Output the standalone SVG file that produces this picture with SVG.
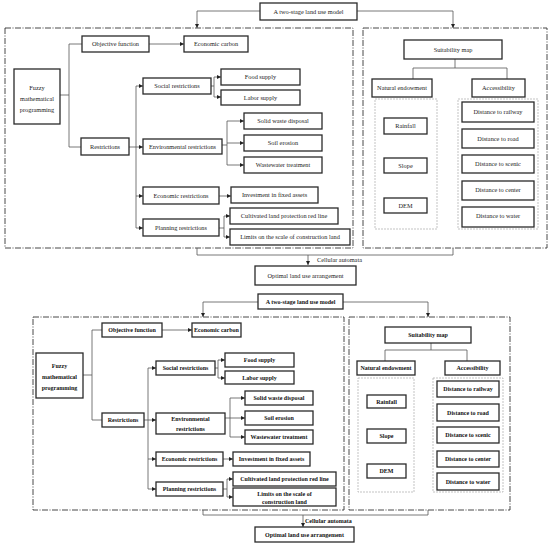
<svg xmlns="http://www.w3.org/2000/svg" width="550" height="546" viewBox="0 0 550 546">
<defs>
<marker id="arr" viewBox="0 0 6 6" refX="6" refY="3" markerWidth="4" markerHeight="4" orient="auto" markerUnits="userSpaceOnUse">
<path d="M0,0 L6,3 L0,6 z" fill="#222"/>
</marker>
</defs>
<style>
.bx{fill:#fff;stroke:#2a2a2a;stroke-width:1.3}
.frame{fill:none;stroke:#333;stroke-width:0.9;stroke-dasharray:6 1.5 1 1.5}
.grp{fill:none;stroke:#aaa;stroke-width:0.7;stroke-dasharray:2 1}
.t{font-family:"Liberation Serif","Times New Roman",serif;font-size:6.3px;fill:#222;text-anchor:middle}
.b{font-weight:bold;fill:#111;font-size:6px}
.tl{text-anchor:start}
.c path{fill:none;stroke:#555;stroke-width:0.8}
.c path.a{marker-end:url(#arr)}
</style>
<rect width="550" height="546" fill="#fff"/>

<!-- ===== TOP DIAGRAM ===== -->
<g id="top-frames">
<rect class="frame" x="5" y="28" width="348" height="220"/>
<rect class="frame" x="363" y="28" width="184" height="220"/>
<rect class="grp" x="375" y="99" width="62" height="130"/>
<rect class="grp" x="458" y="99" width="80" height="130"/>
</g>

<g class="c" id="top-connectors">
<path class="a" d="M260,11 H197 V28"/>
<path class="a" d="M357,11 H453 V28"/>
<path d="M60,95 H69"/>
<path d="M69,44 V147"/>
<path d="M69,44 H82"/>
<path d="M69,147 H81"/>
<path class="a" d="M149,44 H184"/>
<path d="M129,147 H136"/>
<path d="M136,86 V228"/>
<path class="a" d="M136,86 H143"/>
<path class="a" d="M136,147 H143"/>
<path class="a" d="M136,196 H143"/>
<path class="a" d="M136,228 H143"/>
<path d="M211,86 H214"/>
<path d="M214,77 V97"/>
<path class="a" d="M214,77 H221"/>
<path class="a" d="M214,97 H221"/>
<path d="M222,145 H227"/>
<path d="M227,121 V165"/>
<path class="a" d="M227,121 H244"/>
<path class="a" d="M227,143 H244"/>
<path class="a" d="M227,165 H244"/>
<path class="a" d="M219,196 H231"/>
<path d="M219,228 H224"/>
<path d="M224,216 V237"/>
<path class="a" d="M224,216 H230"/>
<path class="a" d="M224,237 H230"/>
<path d="M197,248 V255 H453 V248"/>
<path class="a" d="M308,255 V265"/>
<path d="M455,59 V68"/>
<path d="M413,79 V68 H507 V79"/>
</g>

<g id="t-model"><rect class="bx" x="260" y="3" width="97" height="17"/><text class="t" x="308.5" y="13.5">A two-stage land use model</text></g>
<g id="t-fuzzy"><rect class="bx" x="14" y="69" width="46" height="55"/><text class="t" x="37" y="90">Fuzzy</text><text class="t" x="37" y="101">mathematical</text><text class="t" x="37" y="112">programming</text></g>
<g id="t-objective"><rect class="bx" x="82" y="36" width="67" height="16"/><text class="t" x="115.5" y="46">Objective function</text></g>
<g id="t-carbon"><rect class="bx" x="184" y="36" width="64" height="16"/><text class="t" x="216" y="46">Economic carbon</text></g>
<g id="t-restrictions"><rect class="bx" x="81" y="138" width="48" height="17"/><text class="t" x="105" y="148.5">Restrictions</text></g>
<g id="t-social"><rect class="bx" x="143" y="78" width="68" height="16"/><text class="t" x="177" y="88">Social restrictions</text></g>
<g id="t-env"><rect class="bx" x="143" y="139" width="79" height="15"/><text class="t" x="182.5" y="148.5">Environmental restrictions</text></g>
<g id="t-econ"><rect class="bx" x="143" y="187" width="76" height="17"/><text class="t" x="181" y="197.5">Economic restrictions</text></g>
<g id="t-planning"><rect class="bx" x="143" y="219" width="76" height="17"/><text class="t" x="181" y="229.5">Planning restrictions</text></g>
<g id="t-food"><rect class="bx" x="221" y="69" width="79" height="16"/><text class="t" x="260.5" y="79">Food supply</text></g>
<g id="t-labor"><rect class="bx" x="221" y="90" width="79" height="15"/><text class="t" x="260.5" y="99.5">Labor supply</text></g>
<g id="t-solid"><rect class="bx" x="244" y="113" width="78" height="16"/><text class="t" x="283" y="123">Solid waste disposal</text></g>
<g id="t-soil"><rect class="bx" x="244" y="135" width="78" height="16"/><text class="t" x="283" y="145">Soil erosion</text></g>
<g id="t-waste"><rect class="bx" x="244" y="157" width="78" height="16"/><text class="t" x="283" y="167">Wastewater treatment</text></g>
<g id="t-invest"><rect class="bx" x="231" y="187" width="87" height="16"/><text class="t" x="274.5" y="197">Investment in fixed assets</text></g>
<g id="t-cultivated"><rect class="bx" x="230" y="208" width="108" height="16"/><text class="t" x="284" y="218">Cultivated land protection red line</text></g>
<g id="t-limits"><rect class="bx" x="230" y="229" width="120" height="16"/><text class="t" x="290" y="239">Limits on the scale of construction land</text></g>
<g id="t-optimal"><rect class="bx" x="255" y="266" width="101" height="19"/><text class="t" x="305.5" y="277.5">Optimal land use arrangement</text></g>
<g id="t-ca"><text class="t tl" x="317" y="262">Cellular automata</text></g>
<g id="t-suit"><rect class="bx" x="404" y="40" width="98" height="19"/><text class="t" x="453" y="51.5">Suitability map</text></g>
<g id="t-natural"><rect class="bx" x="372" y="79" width="60" height="18"/><text class="t" x="402" y="90">Natural endowment</text></g>
<g id="t-access"><rect class="bx" x="472" y="79" width="53" height="18"/><text class="t" x="498.5" y="90">Accessibility</text></g>
<g id="t-rain"><rect class="bx" x="384" y="118" width="43" height="16"/><text class="t" x="405.5" y="128">Rainfall</text></g>
<g id="t-slope"><rect class="bx" x="384" y="158" width="43" height="15"/><text class="t" x="405.5" y="167.5">Slope</text></g>
<g id="t-dem"><rect class="bx" x="384" y="198" width="43" height="15"/><text class="t" x="405.5" y="207.5">DEM</text></g>
<g id="t-rail"><rect class="bx" x="462" y="102" width="72" height="20"/><text class="t" x="498" y="114">Distance to railway</text></g>
<g id="t-road"><rect class="bx" x="462" y="129" width="72" height="19"/><text class="t" x="498" y="140.5">Distance to road</text></g>
<g id="t-scenic"><rect class="bx" x="462" y="155" width="72" height="18"/><text class="t" x="498" y="166">Distance to scenic</text></g>
<g id="t-center"><rect class="bx" x="462" y="181" width="72" height="19"/><text class="t" x="498" y="192">Distance to center</text></g>
<g id="t-water"><rect class="bx" x="462" y="207" width="72" height="20"/><text class="t" x="498" y="218">Distance to water</text></g>

<!-- ===== BOTTOM DIAGRAM ===== -->
<g id="bottom-frames">
<rect class="frame" x="33" y="317" width="311" height="193"/>
<rect class="frame" x="349" y="317" width="161" height="193"/>
<rect class="grp" x="358" y="378" width="56" height="114"/>
<rect class="grp" x="433" y="378" width="70" height="114"/>
</g>

<g class="c" id="bottom-connectors">
<path class="a" d="M258,302 H203 V317"/>
<path class="a" d="M343,302 H428 V317"/>
<path d="M83,375 H92"/>
<path d="M92,330 V420"/>
<path d="M92,330 H102"/>
<path d="M92,420 H102"/>
<path class="a" d="M162,330 H192"/>
<path d="M144,420 H148"/>
<path d="M148,368 V489"/>
<path class="a" d="M148,368 H156"/>
<path class="a" d="M148,420 H156"/>
<path class="a" d="M148,459 H156"/>
<path class="a" d="M148,489 H156"/>
<path d="M215,368 H218"/>
<path d="M218,360 V378"/>
<path class="a" d="M218,360 H225"/>
<path class="a" d="M218,378 H225"/>
<path d="M225,418 H230"/>
<path d="M230,398 V437"/>
<path class="a" d="M230,398 H245"/>
<path class="a" d="M230,418 H245"/>
<path class="a" d="M230,437 H245"/>
<path class="a" d="M223,459 H233"/>
<path d="M223,489 H227"/>
<path d="M227,479 V497"/>
<path class="a" d="M227,479 H233"/>
<path class="a" d="M227,497 H233"/>
<path d="M203,510 V515 H428 V510"/>
<path class="a" d="M303,515 V527"/>
<path d="M431,343 V350"/>
<path d="M385,361 V350 H467 V361"/>
</g>

<g id="b-model"><rect class="bx" x="258" y="294" width="85" height="15"/><text class="t b" x="300.5" y="303.5">A two-stage land use model</text></g>
<g id="b-fuzzy"><rect class="bx" x="36" y="353" width="47" height="45"/><text class="t b" x="59.5" y="368">Fuzzy</text><text class="t b" x="59.5" y="379">mathematical</text><text class="t b" x="59.5" y="390">programming</text></g>
<g id="b-objective"><rect class="bx" x="102" y="323" width="60" height="14"/><text class="t b" x="132" y="332">Objective function</text></g>
<g id="b-carbon"><rect class="bx" x="192" y="323" width="49" height="14"/><text class="t b" x="216.5" y="332">Economic carbon</text></g>
<g id="b-restrictions"><rect class="bx" x="102" y="413" width="42" height="14"/><text class="t b" x="123" y="422">Restrictions</text></g>
<g id="b-social"><rect class="bx" x="156" y="361" width="59" height="14"/><text class="t b" x="185.5" y="370">Social restrictions</text></g>
<g id="b-env"><rect class="bx" x="156" y="413" width="69" height="21"/><text class="t b" x="190.5" y="421">Environmental</text><text class="t b" x="190.5" y="431">restrictions</text></g>
<g id="b-econ"><rect class="bx" x="156" y="452" width="67" height="14"/><text class="t b" x="189.5" y="461">Economic restrictions</text></g>
<g id="b-planning"><rect class="bx" x="156" y="482" width="67" height="14"/><text class="t b" x="189.5" y="491">Planning restrictions</text></g>
<g id="b-food"><rect class="bx" x="225" y="353" width="69" height="14"/><text class="t b" x="259.5" y="362">Food supply</text></g>
<g id="b-labor"><rect class="bx" x="225" y="371" width="69" height="13"/><text class="t b" x="259.5" y="379.5">Labor supply</text></g>
<g id="b-solid"><rect class="bx" x="245" y="391" width="68" height="14"/><text class="t b" x="279" y="400">Solid waste disposal</text></g>
<g id="b-soil"><rect class="bx" x="245" y="411" width="68" height="14"/><text class="t b" x="279" y="420">Soil erosion</text></g>
<g id="b-waste"><rect class="bx" x="245" y="430" width="68" height="14"/><text class="t b" x="279" y="439">Wastewater treatment</text></g>
<g id="b-invest"><rect class="bx" x="233" y="452" width="77" height="14"/><text class="t b" x="271.5" y="461">Investment in fixed assets</text></g>
<g id="b-cultivated"><rect class="bx" x="233" y="472" width="103" height="14"/><text class="t b" x="284.5" y="481">Cultivated land protection red line</text></g>
<g id="b-limits"><rect class="bx" x="233" y="488" width="103" height="18"/><text class="t b" x="284.5" y="495.5">Limits on the scale of</text><text class="t b" x="284.5" y="503.5">construction land</text></g>
<g id="b-optimal"><rect class="bx" x="255" y="527" width="99" height="15"/><text class="t b" x="304.5" y="536.5">Optimal land use arrangement</text></g>
<g id="b-ca"><text class="t b tl" x="305" y="523">Cellular automata</text></g>
<g id="b-suit"><rect class="bx" x="385" y="327" width="86" height="16"/><text class="t b" x="428" y="337">Suitability map</text></g>
<g id="b-natural"><rect class="bx" x="357" y="361" width="58" height="14"/><text class="t b" x="386" y="370">Natural endowment</text></g>
<g id="b-access"><rect class="bx" x="445" y="361" width="55" height="14"/><text class="t b" x="472.5" y="370">Accessibility</text></g>
<g id="b-rain"><rect class="bx" x="367" y="395" width="39" height="13"/><text class="t b" x="386.5" y="403.5">Rainfall</text></g>
<g id="b-slope"><rect class="bx" x="367" y="429" width="39" height="14"/><text class="t b" x="386.5" y="438">Slope</text></g>
<g id="b-dem"><rect class="bx" x="367" y="464" width="39" height="14"/><text class="t b" x="386.5" y="473">DEM</text></g>
<g id="b-rail"><rect class="bx" x="437" y="381" width="62" height="16"/><text class="t b" x="468" y="391">Distance to railway</text></g>
<g id="b-road"><rect class="bx" x="437" y="404" width="62" height="17"/><text class="t b" x="468" y="414.5">Distance to road</text></g>
<g id="b-scenic"><rect class="bx" x="437" y="427" width="62" height="16"/><text class="t b" x="468" y="437">Distance to scenic</text></g>
<g id="b-center"><rect class="bx" x="437" y="451" width="62" height="16"/><text class="t b" x="468" y="461">Distance to center</text></g>
<g id="b-water"><rect class="bx" x="437" y="473" width="62" height="17"/><text class="t b" x="468" y="483.5">Distance to water</text></g>
</svg>
